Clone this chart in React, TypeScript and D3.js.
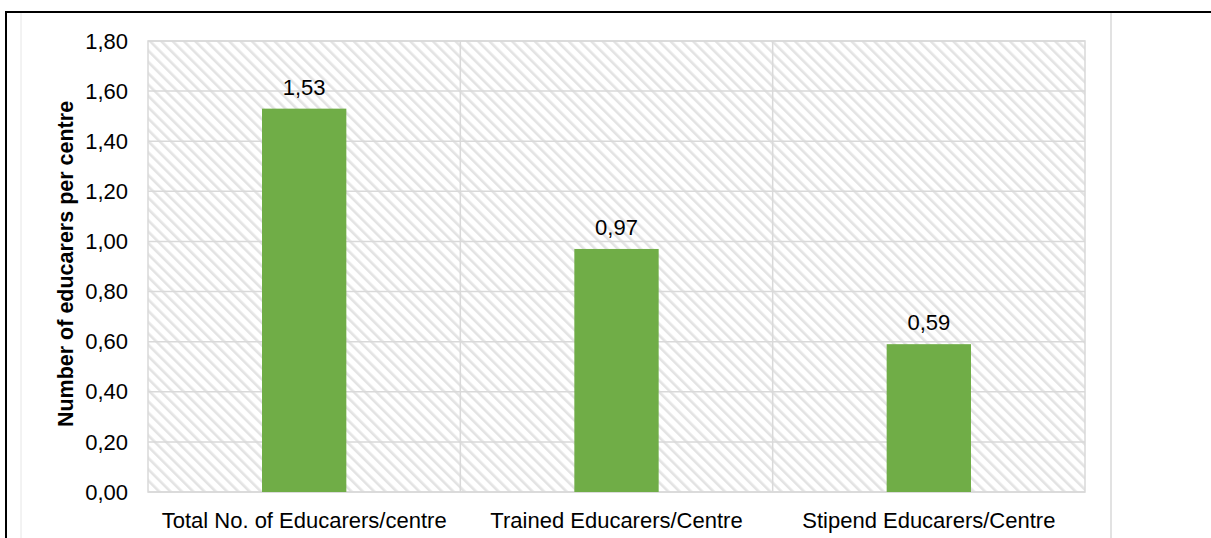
import React from 'react';
import * as d3 from 'd3';

const WIDTH = 1211;
const HEIGHT = 538;

const categories = [
  'Total No. of Educarers/centre',
  'Trained Educarers/Centre',
  'Stipend Educarers/Centre',
];
const values = [1.53, 0.97, 0.59];
const yTicks = [0, 0.2, 0.4, 0.6, 0.8, 1.0, 1.2, 1.4, 1.6, 1.8];

const margin = { l: 148, r: 126, t: 41, b: 46 };
const plotW = WIDTH - margin.l - margin.r;
const plotH = HEIGHT - margin.t - margin.b;

const fmt = (v: number) => v.toFixed(2).replace('.', ',');
const FONT = '"Liberation Sans", Arial, sans-serif';
const FS = 22;

const App = () => {
  const x = d3.scaleBand<string>().domain(categories).range([0, plotW]);
  const y = d3.scaleLinear().domain([0, 1.8]).range([plotH, 0]);
  const barW = x.bandwidth() * 0.27;

  return (
    <svg
      width={WIDTH}
      height={HEIGHT}
      style={{ position: 'absolute', left: 0, top: 0, fontFamily: FONT }}
    >
      <defs>
        <pattern
          id="hatch"
          patternUnits="userSpaceOnUse"
          width={8}
          height={8}
          patternTransform="rotate(-45)"
        >
          <rect width={8} height={8} fill="#fff" />
          <rect x={0} y={0} width={2.6} height={8} fill="#e3e3e3" />
        </pattern>
      </defs>
      <rect width={WIDTH} height={HEIGHT} fill="#fff" />
      {/* outer frame */}
      <line x1={21} x2={21} y1={13} y2={HEIGHT} stroke="#e6e6e6" />
      <line x1={1111} x2={1111} y1={13} y2={HEIGHT} stroke="#d9d9d9" strokeWidth={1.5} />
      <line x1={5} x2={WIDTH} y1={12} y2={12} stroke="#000" strokeWidth={2} />
      <line x1={6} x2={6} y1={12} y2={HEIGHT} stroke="#000" strokeWidth={2} />

      <g transform={`translate(${margin.l},${margin.t})`}>
        <rect width={plotW} height={plotH} fill="url(#hatch)" />
        {yTicks.map((t) => (
          <line key={`g${t}`} x1={0} x2={plotW} y1={y(t)} y2={y(t)} stroke="#d9d9d9" strokeWidth={1.5} />
        ))}
        {categories.slice(1).map((c) => (
          <line key={`v${c}`} x1={x(c)} x2={x(c)} y1={0} y2={plotH} stroke="#d9d9d9" strokeWidth={1.5} />
        ))}
        <rect width={plotW} height={plotH} fill="none" stroke="#d9d9d9" strokeWidth={1.5} />

        {categories.map((c, i) => {
          const cx = (x(c) as number) + x.bandwidth() / 2;
          return (
            <g key={c}>
              <rect
                x={cx - barW / 2}
                y={y(values[i])}
                width={barW}
                height={plotH - y(values[i])}
                fill="#70ad47"
              />
              <text x={cx} y={y(values[i]) - 14} textAnchor="middle" fontSize={FS} fill="#000">
                {fmt(values[i])}
              </text>
              <text x={cx} y={plotH + 36} textAnchor="middle" fontSize={FS} fill="#000">
                {c}
              </text>
            </g>
          );
        })}

        {yTicks.map((t) => (
          <text key={`t${t}`} x={-20} y={y(t)} dy="0.35em" textAnchor="end" fontSize={FS} fill="#000">
            {fmt(t)}
          </text>
        ))}

        <text
          transform={`translate(${-75},${223}) rotate(-90)`}
          textAnchor="middle"
          fontSize={21.5}
          fontWeight="bold"
          fill="#000"
        >
          Number of educarers per centre
        </text>
      </g>
    </svg>
  );
};

export default App;
